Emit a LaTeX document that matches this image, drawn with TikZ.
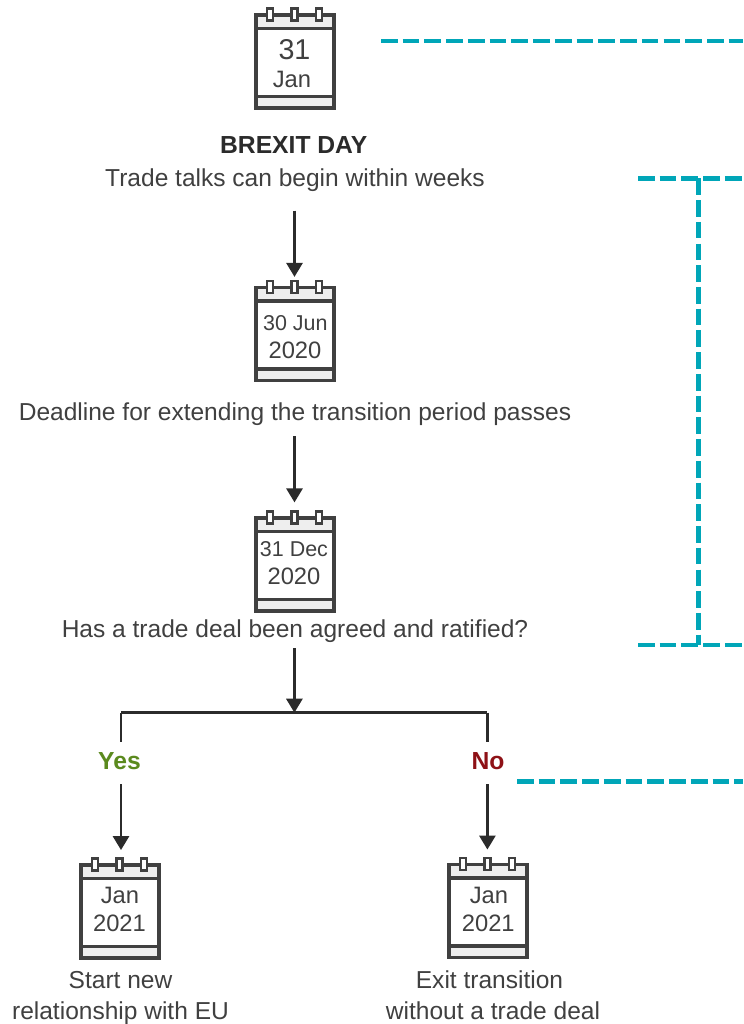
\documentclass[tikz,border=0pt]{standalone}
\usepackage{fontspec}
\setmainfont{Liberation Sans}
\definecolor{ink}{HTML}{404040}
\definecolor{darkink}{HTML}{2B2B2B}
\definecolor{calline}{HTML}{404040}
\definecolor{calfill}{HTML}{EEEEEE}
\definecolor{dashteal}{HTML}{00A6B8}
\definecolor{yesgreen}{HTML}{5B8A1E}
\definecolor{nored}{HTML}{8E1116}
\usetikzlibrary{arrows.meta}
\tikzset{
  txt/.style={font=\fontsize{18.4}{22}\selectfont,text=ink,inner sep=0pt,anchor=base},
  boldtxt/.style={font=\fontsize{18.5}{22}\selectfont\bfseries,text=darkink,inner sep=0pt,anchor=base},
  caltxt/.style={font=\fontsize{17.8}{21}\selectfont,text=ink,inner sep=0pt,anchor=base},
  calsmall/.style={font=\fontsize{16.1}{19}\selectfont,text=ink,inner sep=0pt,anchor=base},
  calbig/.style={font=\fontsize{21.5}{26}\selectfont,text=ink,inner sep=0pt,anchor=base},
  calbox/.style={inner sep=0pt,minimum width=58.5pt,minimum height=75.5pt},
  calstroke/.style={draw=calline,line width=2.3pt,line join=miter},
  flow/.style={draw=darkink,line width=2.1pt},
  arrowflow/.style={flow,-{Triangle[length=10.5pt,width=12pt]}},
  teal/.style={draw=dashteal,line width=3.6pt,dash pattern=on 12.5pt off 3.8pt},
}
\newcommand{\calicon}[3]{% name, x left, y top of body
  \begin{scope}[shift={(#2,#3)}]
    \fill[calfill] (0,0) rectangle (78,13.5);
    \fill[calfill] (0,81.5) rectangle (78,93);
    \draw[calstroke] (0,0) rectangle (78,93);
    \draw[calstroke] (0,13.5) -- (78,13.5);
    \draw[calstroke] (0,81.5) -- (78,81.5);
    \foreach \r in {14,38.5,63}{
      \draw[draw=calline,line width=1.8pt,fill=white] (\r-3,-6.5) rectangle (\r+3,5.5);
    }
  \end{scope}
  \node[calbox] (#1) at (#2+38.5,#3+43) {};
}
\begin{document}
\begin{tikzpicture}[x=0.75pt,y=-0.75pt]
\useasboundingbox (0,0) rectangle (743,1024);
\fill[white] (0,0) rectangle (743,1024);

\calicon{c1}{256}{15}
\node[calbig] (c1a) at (294.5,60) {31};
\node[caltxt] (c1b) at (292,87.5) {Jan};
\calicon{c2}{256}{287.5}
\node[calsmall] (c2a) at (295.3,330) {30 Jun};
\node[caltxt] (c2b) at (295,358) {2020};
\calicon{c3}{256}{518}
\node[calsmall] (c3a) at (294,556) {31 Dec};
\node[caltxt] (c3b) at (294,584) {2020};
\calicon{c4}{81}{865}
\node[caltxt] (c4a) at (120,903) {Jan};
\node[caltxt] (c4b) at (119.5,931.5) {2021};
\calicon{c5}{449}{864.5}
\node[caltxt] (c5a) at (489,903) {Jan};
\node[caltxt] (c5b) at (488.3,931.5) {2021};

\node[boldtxt] (brexit) at (293.7,153.5) {BREXIT DAY};
\node[txt] (talks) at (295,186.5) {Trade talks can begin within weeks};
\node[txt] (deadline) at (295,420) {Deadline for extending the transition period passes};
\node[txt] (agreed) at (295,637) {Has a trade deal been agreed and ratified?};
\node[boldtxt,text=yesgreen] (yes) at (119.5,769) {Yes};
\node[boldtxt,text=nored] (no) at (488,769) {No};
\node[txt] (start1) at (120.5,988) {Start new};
\node[txt] (start2) at (120.5,1019) {relationship with EU};
\node[txt] (exit1) at (489.5,988) {Exit transition};
\node[txt] (exit2) at (493,1019) {without a trade deal};

\coordinate (split) at (294.4,712.7);
\coordinate (yesdrop) at (121,712.7);
\coordinate (nodrop) at (487.4,712.7);
\draw[arrowflow,shorten <=14pt] (talks.south -| c2.north) -- ([yshift=2.25pt]c2.north);
\draw[arrowflow,shorten <=8pt] (deadline.south -| c3.north) -- ([yshift=6pt]c3.north);
\draw[arrowflow,shorten <=4.5pt] (agreed.south -| split) -- (split);
\draw[flow,shorten >=7.5pt,line cap=butt] (yesdrop) -- (yesdrop |- yes.north);
\draw[flow,shorten >=7.5pt,line cap=butt] (nodrop) -- (nodrop |- no.north);
\draw[flow,line cap=square] (yesdrop) -- (nodrop);
\draw[arrowflow,shorten <=11pt] (yesdrop |- yes.south) -- ([yshift=5.5pt]yesdrop |- c4.north);
\draw[arrowflow,shorten <=11pt] (nodrop |- no.south) -- ([yshift=5.5pt]nodrop |- c5.north);

\coordinate (t1a) at (381,41);
\coordinate (t1b) at (743,41);
\coordinate (t2a) at (638,178.3);
\coordinate (t2b) at (743,178.3);
\coordinate (t3a) at (638,645);
\coordinate (t3b) at (743,645);
\coordinate (t4a) at (517,781.3);
\coordinate (t4b) at (743,781.3);
\coordinate (b1) at (698.5,178.3);
\coordinate (b2) at (698.5,645);
\draw[teal] (t1a) -- (t1b);
\draw[teal] (t2a) -- (t2b);
\draw[teal] (t3a) -- (t3b);
\draw[teal] (t4a) -- (t4b);
\draw[teal] (b1) -- (b2);
\end{tikzpicture}
\end{document}
